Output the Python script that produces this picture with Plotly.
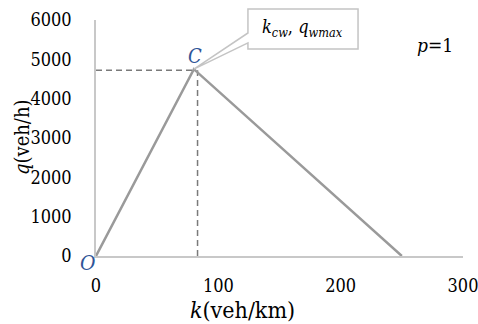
import plotly.graph_objects as go

# Triangular flow-density diagram
k_vals = [0, 80, 250]          # density (veh/km)
q_vals = [0, 4750, 0]          # flow (veh/h)
k_crit = 83                    # guide line at critical density
q_max_guide = 4720             # guide line at capacity flow
x_ticks = [0, 100, 200, 300]
y_ticks = [0, 1000, 2000, 3000, 4000, 5000, 6000]

X_MAX, Y_MAX = 300, 6000
SERIF = "DejaVu Serif Condensed, DejaVu Serif"
BLUE = "#2F5597"

fig = go.Figure()

# dashed guides to the peak
fig.add_trace(go.Scatter(x=[0, k_vals[1]], y=[q_max_guide, q_max_guide], mode="lines",
                         line=dict(color="#7a7a7a", width=1.5, dash="6px,4px"),
                         hoverinfo="skip", showlegend=False, cliponaxis=False))
fig.add_trace(go.Scatter(x=[k_crit, k_crit], y=[0, q_max_guide], mode="lines",
                         line=dict(color="#7a7a7a", width=1.5, dash="6px,4px"),
                         hoverinfo="skip", showlegend=False, cliponaxis=False))
# fundamental diagram
fig.add_trace(go.Scatter(x=k_vals, y=q_vals, mode="lines",
                         line=dict(color="#9a9a9a", width=2.5),
                         showlegend=False, cliponaxis=False))

# callout box with a wedge pointing at the capacity point
tip_x = k_vals[1] / X_MAX
tip_y = q_vals[1] / Y_MAX
bx0, bx1, by0, by1 = 0.414, 0.714, 0.877, 1.047
a_hi, a_lo = 0.945, 0.903
path = (f"M {bx0},{a_hi} L {bx0},{by1} L {bx1},{by1} L {bx1},{by0} L {bx0},{by0} "
        f"L {bx0},{a_lo} L {tip_x},{tip_y} Z")
fig.add_shape(type="path", path=path, xref="paper", yref="paper",
              fillcolor="white", line=dict(color="#c4c4c4", width=1.5), layer="above")

annotations = [
    dict(x=(bx0 + bx1) / 2, y=(by0 + by1) / 2 + 0.005, xref="paper", yref="paper",
         text="<i>k</i><sub><i>cw</i></sub>, <i>q</i><sub><i>wmax</i></sub>",
         font=dict(family=SERIF, size=18, color="#000")),
    dict(x=0.924, y=0.894, xref="paper", yref="paper", text="<i>p</i>=1",
         font=dict(family=SERIF, size=19, color="#000")),
    dict(x=k_vals[1], y=q_vals[1], xref="x", yref="y", text="<i>C</i>",
         yshift=13, xshift=1, font=dict(family=SERIF, size=20, color=BLUE)),
    dict(x=0, y=0, xref="x", yref="y", text="<i>O</i>",
         xshift=-8, yshift=-7, font=dict(family=SERIF, size=21, color=BLUE)),
    dict(x=0.4005, y=-0.228, xref="paper", yref="paper", text="<i>k</i>(veh/km)",
         font=dict(family=SERIF, size=23, color="#000")),
    dict(x=-0.2016, y=0.504, xref="paper", yref="paper", text="<i>q</i>(veh/h)",
         textangle=-90, font=dict(family=SERIF, size=20, color="#000")),
]
for a in annotations:
    a.update(showarrow=False, xanchor="center", yanchor="middle")

fig.update_layout(
    width=478, height=324,
    margin=dict(l=96, r=15, t=20, b=68),
    paper_bgcolor="white", plot_bgcolor="white",
    font=dict(family=SERIF, size=18, color="#000"),
    annotations=annotations,
    xaxis=dict(range=[0, X_MAX], tickvals=x_ticks, showgrid=False, zeroline=False,
               showline=True, linecolor="#c8c8c8", linewidth=1.5, automargin=False,
               ticks="", ticklabelstandoff=13, ticklabeloverflow="allow",
               tickfont=dict(family=SERIF, size=18)),
    yaxis=dict(range=[0, Y_MAX], tickvals=y_ticks, showgrid=False, zeroline=False,
               showline=True, linecolor="#c8c8c8", linewidth=1.5, automargin=False,
               ticks="", ticklabelstandoff=19, ticklabeloverflow="allow",
               tickfont=dict(family=SERIF, size=18)),
)

fig.write_html("out.html")
